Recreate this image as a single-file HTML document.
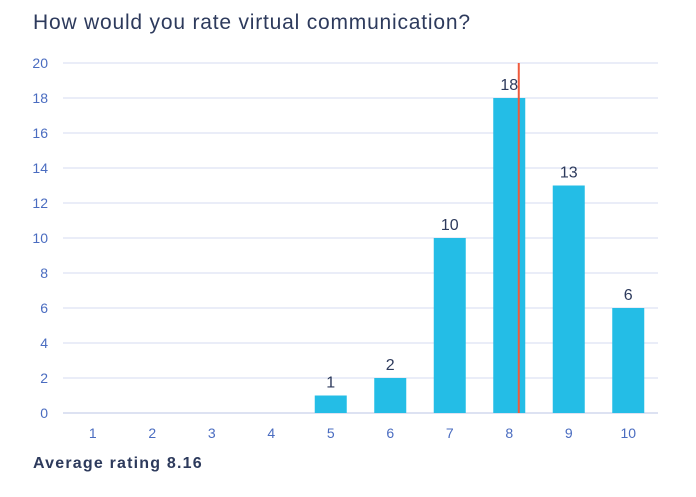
<!DOCTYPE html>
<html><head><meta charset="utf-8"><style>
body{margin:0;background:#fff;width:696px;height:492px;overflow:hidden;font-family:"Liberation Sans",sans-serif}
</style></head><body>
<svg width="696" height="492">
<text x="33" y="29" font-size="21" letter-spacing="0.8" fill="#2d3a5c">How would you rate virtual communication?</text>
<g id="grid"></g><g id="bars"></g>
<text x="33" y="468" font-size="16" letter-spacing="1.2" font-weight="bold" fill="#2d3a5c">Average rating 8.16</text>
</svg>
<script>
const categories=["1","2","3","4","5","6","7","8","9","10"];
const values=[0,0,0,0,1,2,10,18,13,6];
const yTicks=[0,2,4,6,8,10,12,14,16,18,20];
const average=[8.16];
const NS="http://www.w3.org/2000/svg";
const x0=63,x1=658,yZero=413,yTop=63,yMax=20;
const step=(x1-x0)/categories.length;
const y=v=>yZero-(yZero-yTop)*v/yMax;
const xc=i=>x0+step*(i+0.5);
const xv=v=>xc(v-1);
function mk(t,a,p){const e=document.createElementNS(NS,t);for(const k in a)e.setAttribute(k,a[k]);p.appendChild(e);return e;}
const g=document.getElementById('grid'),b=document.getElementById('bars');
yTicks.forEach(t=>{
 const l=mk('line',{x1:x0,x2:x1,y1:y(t),y2:y(t),stroke:t===0?'#dde2f2':'#e3e7f5','stroke-width':t===0?2:1.5},g);
 
 
 const tx=mk('text',{x:48,y:y(t)+5,'text-anchor':'end','font-size':14,fill:'#4a6cc0'},g);
 tx.textContent=t;
 
 
});
categories.forEach((c,i)=>{
 const tx=mk('text',{x:xc(i),y:438,'text-anchor':'middle','font-size':14,fill:'#4a6cc0'},g);
 tx.textContent=c;
 
 
 const v=values[i];
 if(v>0){
  const r=mk('rect',{x:xc(i)-16,y:y(v),width:32,height:yZero-y(v),fill:'#24bde6'},b);
  
  
  const lb=mk('text',{x:xc(i),y:y(v)-8,'text-anchor':'middle','font-size':16,fill:'#2d3a5c'},b);
  lb.textContent=v;
  
  
 }
});
const al=mk('line',{x1:xv(average[0]),x2:xv(average[0]),y1:yTop,y2:yZero,stroke:'#ef5a3c','stroke-width':2},b);


</script>
</body></html>
